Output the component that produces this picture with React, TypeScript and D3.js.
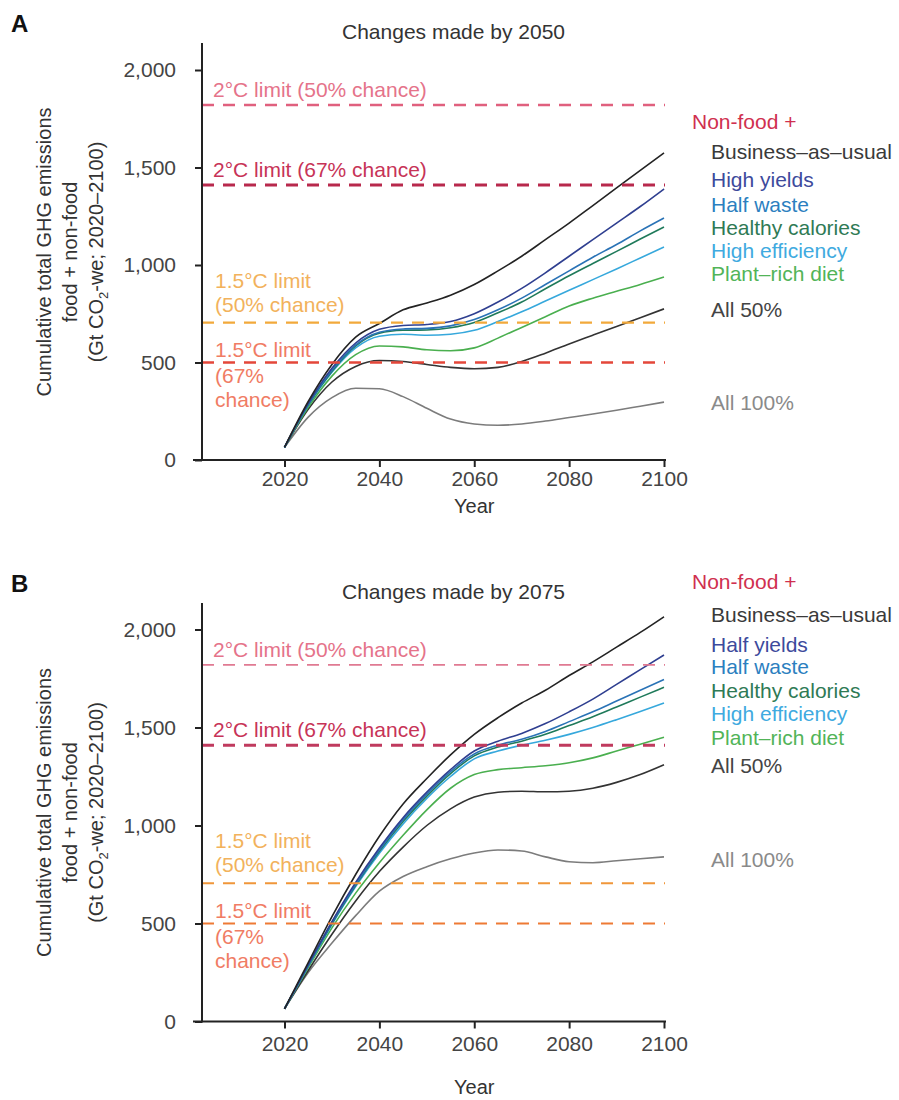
import { useRef, useEffect } from 'react';
import * as d3 from 'd3';

// 年（5年刻み）
const years = [2020, 2025, 2030, 2035, 2040, 2045, 2050, 2055, 2060, 2065, 2070, 2075, 2080, 2085, 2090, 2095, 2100];

// A: Changes made by 2050
const namesA = ['Business–as–usual', 'High yields', 'Half waste', 'Healthy calories', 'High efficiency', 'Plant–rich diet', 'All 50%', 'All 100%'];
const bauA = [65, 300, 490, 630, 700, 770, 805, 845, 900, 970, 1045, 1130, 1215, 1305, 1395, 1485, 1575];
const highYieldsA = [65, 290, 470, 600, 670, 690, 695, 710, 750, 810, 880, 960, 1045, 1130, 1215, 1300, 1390];
const halfWasteA = [65, 285, 460, 590, 655, 672, 675, 688, 720, 770, 830, 900, 970, 1040, 1105, 1175, 1241];
const healthyA = [65, 283, 455, 585, 650, 665, 667, 678, 705, 755, 810, 878, 945, 1008, 1070, 1133, 1195];
const efficiencyA = [65, 280, 450, 575, 635, 645, 640, 645, 665, 710, 760, 815, 870, 925, 980, 1036, 1092];
const plantA = [65, 270, 430, 540, 585, 580, 565, 560, 575, 625, 680, 735, 790, 830, 865, 900, 938];
const all50A = [65, 260, 400, 480, 510, 505, 490, 475, 468, 475, 505, 548, 595, 640, 685, 730, 775];
const all100A = [65, 220, 320, 368, 365, 325, 265, 210, 185, 178, 185, 200, 218, 236, 255, 276, 297];

// B: Changes made by 2075
const namesB = ['Business–as–usual', 'Half yields', 'Half waste', 'Healthy calories', 'High efficiency', 'Plant–rich diet', 'All 50%', 'All 100%'];
const bauB = [65, 300, 535, 750, 945, 1110, 1240, 1360, 1465, 1550, 1625, 1690, 1765, 1835, 1910, 1985, 2065];
const halfYieldsB = [65, 290, 510, 710, 885, 1040, 1170, 1285, 1380, 1430, 1470, 1520, 1580, 1645, 1720, 1795, 1870];
const halfWasteB = [65, 285, 505, 700, 875, 1030, 1160, 1275, 1365, 1410, 1440, 1480, 1530, 1580, 1635, 1690, 1745];
const healthyB = [65, 285, 500, 695, 868, 1020, 1150, 1265, 1355, 1400, 1430, 1465, 1510, 1555, 1605, 1655, 1705];
const efficiencyB = [65, 282, 495, 688, 858, 1008, 1138, 1250, 1340, 1380, 1410, 1435, 1465, 1500, 1540, 1582, 1625];
const plantB = [65, 275, 478, 655, 810, 950, 1080, 1190, 1260, 1285, 1295, 1305, 1320, 1345, 1380, 1415, 1450];
const all50B = [65, 260, 445, 615, 765, 890, 1000, 1085, 1145, 1170, 1175, 1172, 1175, 1190, 1220, 1260, 1310];
const all100B = [65, 250, 400, 540, 665, 740, 790, 830, 860, 875, 870, 840, 815, 810, 820, 830, 840];

const lineColors = ['#232323', '#2f3f90', '#2a73b6', '#1f7a5a', '#36a8dc', '#4aaf4f', '#333333', '#7c7c7c'];
const textColors = ['#3a3a3a', '#3d4a9c', '#2c7fbf', '#2f7a55', '#40aae0', '#52b458', '#444444', '#8a8a8a'];

// 気温上昇の上限
const limitValues = [1820, 1410, 705, 500];
const limitLabels = [
    ['2°C limit (50% chance)'],
    ['2°C limit (67% chance)'],
    ['1.5°C limit', '(50% chance)'],
    ['1.5°C limit', '(67%', 'chance)']
];
const limitTextColors = ['#e5738a', '#c73357', '#f2b25c', '#f07c64'];

const yTicks = [0, 500, 1000, 1500, 2000];
const xTicks = [2020, 2040, 2060, 2080, 2100];

const FONT = "'Liberation Sans', Arial, Helvetica, sans-serif";

const panels = [
    {
        letter: 'A', title: 'Changes made by 2050', names: namesA,
        series: [bauA, highYieldsA, halfWasteA, healthyA, efficiencyA, plantA, all50A, all100A],
        y0: 460, y2000: 70, axisTop: 43, titleY: 39, letterY: 32, tickPad: 4, yearY: 513,
        legendNonFood: 129, legendY: [152, 180, 205, 228, 251, 274, 310, 403],
        limitColors: ['#e0607e', '#b8294c', '#f2a93b', '#e4473a'], limitWidths: [2.5, 3, 2.3, 2.6]
    },
    {
        letter: 'B', title: 'Changes made by 2075', names: namesB,
        series: [bauB, halfYieldsB, halfWasteB, healthyB, efficiencyB, plantB, all50B, all100B],
        y0: 1021.5, y2000: 629.5, axisTop: 603, titleY: 599, letterY: 592, tickPad: 8, yearY: 1094,
        legendNonFood: 589, legendY: [615, 645, 667, 691, 714, 738, 766, 860],
        limitColors: ['#e07a92', '#c03a5e', '#f0963a', '#ee7a35'], limitWidths: [1.8, 3, 1.9, 1.9]
    }
];

// ラベルのベースライン位置（上限線からのずれ）
const limitOffsets = [[-8], [-8], [-35, -11], [-6, 20, 44]];

function drawPanel(svg, cfg) {
    const x = d3.scaleLinear().domain([2020, 2100]).range([284.5, 664]);
    const y = d3.scaleLinear().domain([0, 2000]).range([cfg.y0, cfg.y2000]);
    const axisX = 202;

    const g = svg.append('g').attr('font-family', FONT);

    // パネル記号とタイトル
    g.append('text').attr('x', 11).attr('y', cfg.letterY)
        .attr('font-size', 24).attr('font-weight', 'bold').attr('fill', '#111')
        .text(cfg.letter);
    g.append('text').attr('x', 342).attr('y', cfg.titleY)
        .attr('font-size', 21).attr('fill', '#333').text(cfg.title);

    // 上限ラベル
    limitValues.forEach((v, i) => {
        const ly = y(v);
        limitLabels[i].forEach((t, j) => {
            g.append('text')
                .attr('x', i < 2 ? 213 : 215)
                .attr('y', ly + limitOffsets[i][j])
                .attr('font-size', 21)
                .attr('fill', limitTextColors[i])
                .text(t);
        });
    });

    // シナリオの線
    const line = d3.line()
        .x((d, i) => x(years[i]))
        .y(d => y(d))
        .curve(d3.curveMonotoneX);

    const order = [7, 6, 5, 4, 3, 2, 1, 0];
    order.forEach(k => {
        g.append('path')
            .attr('d', line(cfg.series[k]))
            .attr('fill', 'none')
            .attr('stroke', lineColors[k])
            .attr('stroke-width', 1.6);
    });

    // 上限の破線
    limitValues.forEach((v, i) => {
        g.append('line')
            .attr('x1', axisX).attr('x2', 665)
            .attr('y1', y(v)).attr('y2', y(v))
            .attr('stroke', cfg.limitColors[i])
            .attr('stroke-width', cfg.limitWidths[i])
            .attr('stroke-dasharray', '12 9');
    });

    // 軸
    const yAxis = d3.axisLeft(y).tickValues(yTicks).tickFormat(d3.format(',')).tickSize(7).tickPadding(19);
    const yg = g.append('g').attr('transform', `translate(${axisX},0)`).call(yAxis);
    const xAxis = d3.axisBottom(x).tickValues(xTicks).tickFormat(d3.format('d')).tickSize(7).tickPadding(cfg.tickPad);
    const xg = g.append('g').attr('transform', `translate(0,${cfg.y0})`).call(xAxis);
    [yg, xg].forEach(a => {
        a.select('.domain').remove();
        a.attr('font-family', FONT).attr('font-size', 21);
        a.selectAll('line').attr('stroke', '#222').attr('stroke-width', 2);
        a.selectAll('text').attr('fill', '#444');
    });

    g.append('line').attr('x1', axisX).attr('x2', axisX)
        .attr('y1', cfg.axisTop).attr('y2', cfg.y0 + 1)
        .attr('stroke', '#222').attr('stroke-width', 2);
    g.append('line').attr('x1', 193).attr('x2', 666)
        .attr('y1', cfg.y0).attr('y2', cfg.y0)
        .attr('stroke', '#222').attr('stroke-width', 2);

    // 軸タイトル
    g.append('text').attr('x', (x(2020) + x(2100)) / 2).attr('y', cfg.yearY)
        .attr('text-anchor', 'middle').attr('font-size', 20).attr('fill', '#333')
        .text('Year');

    const cy = (cfg.y0 + cfg.y2000) / 2 - 13;
    const yl = g.append('text')
        .attr('transform', `translate(0,${cy}) rotate(-90)`)
        .attr('text-anchor', 'middle').attr('font-size', 20).attr('fill', '#333');
    yl.append('tspan').attr('x', 0).attr('y', 51).text('Cumulative total GHG emissions');
    yl.append('tspan').attr('x', 0).attr('y', 77).text('food + non-food');
    yl.append('tspan').attr('x', 0).attr('y', 103).text('(Gt CO');
    yl.append('tspan').attr('font-size', 13).attr('dy', 5).text('2');
    yl.append('tspan').attr('dy', -5).text('-we; 2020–2100)');

    // 凡例
    g.append('text').attr('x', 692).attr('y', cfg.legendNonFood)
        .attr('font-size', 21).attr('fill', '#d0304f').text('Non-food +');
    cfg.names.forEach((n, k) => {
        g.append('text').attr('x', 711).attr('y', cfg.legendY[k] + 7)
            .attr('font-size', 21).attr('fill', textColors[k]).text(n);
    });
}

export default function App() {
    const svgRef = useRef(null);

    useEffect(() => {
        const svg = d3.select(svgRef.current);
        svg.selectAll('*').remove();
        panels.forEach(p => drawPanel(svg, p));
    }, []);

    return (
        <svg ref={svgRef} width={899} height={1100}
            style={{ position: 'absolute', left: 0, top: 0, background: '#fff' }} />
    );
}
